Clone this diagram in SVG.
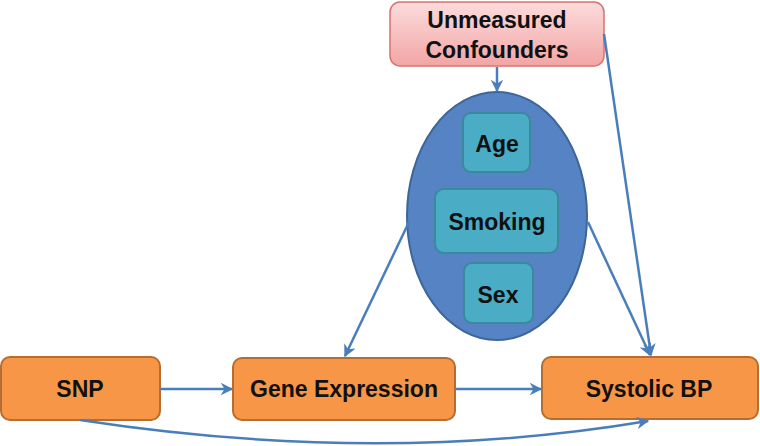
<svg xmlns="http://www.w3.org/2000/svg" width="760" height="446" viewBox="0 0 760 446">
<defs>
<linearGradient id="pink" x1="0" y1="0" x2="0" y2="1">
<stop offset="0" stop-color="#fbdcdc"/>
<stop offset="1" stop-color="#f3a5a5"/>
</linearGradient>
<marker id="ah" viewBox="0 0 10 10" refX="9" refY="5" markerWidth="5" markerHeight="5" orient="auto" markerUnits="strokeWidth">
<path d="M0,0 L10,5 L0,10 L3,5 Z" fill="#4a7ebb"/>
</marker>
<style>
.t{font-family:"Liberation Sans",Arial,sans-serif;font-weight:bold;font-size:23px;fill:#111;text-anchor:middle}
.or{fill:#f79646;stroke:#b66d31;stroke-width:2}
.aq{fill:#4bacc6;stroke:#3a8a9c;stroke-width:2}
.c{fill:none;stroke:#4a7ebb;stroke-width:2.5;marker-end:url(#ah)}
</style>
</defs>
<g id="confounders">
<rect x="390" y="2" width="214" height="64" rx="10" fill="url(#pink)" stroke="#d9726f" stroke-width="1.5"/>
<text class="t" x="497" y="28">Unmeasured</text>
<text class="t" x="497" y="58">Confounders</text>
</g>
<g id="covariates">
<ellipse cx="497" cy="216" rx="90" ry="124" fill="#5583c4" stroke="#3d6699" stroke-width="2"/>
</g>
<g id="age">
<rect class="aq" x="463" y="113" width="67" height="59" rx="8"/>
<text class="t" x="497" y="152">Age</text>
</g>
<g id="smoking">
<rect class="aq" x="435" y="189" width="123" height="64" rx="9"/>
<text class="t" x="497" y="230">Smoking</text>
</g>
<g id="sex">
<rect class="aq" x="464" y="263" width="69" height="60" rx="8"/>
<text class="t" x="498" y="303">Sex</text>
</g>
<g id="snp">
<rect class="or" x="1" y="357" width="159" height="63" rx="9"/>
<text class="t" x="80" y="397">SNP</text>
</g>
<g id="gene">
<rect class="or" x="233" y="358" width="222" height="62" rx="9"/>
<text class="t" x="344" y="397">Gene Expression</text>
</g>
<g id="sbp">
<rect class="or" x="542" y="357" width="216" height="62" rx="9"/>
<text class="t" x="649" y="397">Systolic BP</text>
</g>
<g id="connectors">
<path class="c" d="M497,67 L497,91"/>
<path class="c" d="M160,389 L232,389"/>
<path class="c" d="M455,389 L541,389"/>
<path class="c" d="M409,222 L345,356"/>
<path class="c" d="M588,222 L650,355"/>
<path class="c" d="M604,34 L651,355"/>
<path class="c" d="M80,420 Q380,466 648,421"/>
</g>
</svg>
